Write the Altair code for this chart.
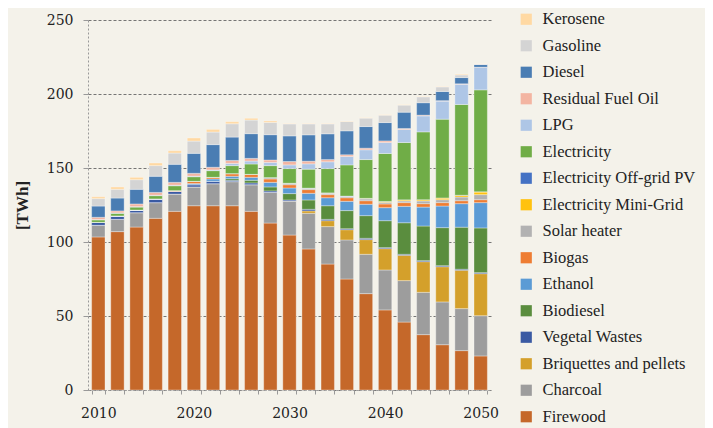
import altair as alt
import pandas as pd

years = list(range(2010, 2051, 2))

# series listed bottom -> top of the stack
series = [
    "Firewood", "Charcoal", "Briquettes and pellets", "Vegetal Wastes", "Biodiesel",
    "Ethanol", "Biogas", "Solar heater", "Electricity Mini-Grid", "Electricity Off-grid PV",
    "Electricity", "LPG", "Residual Fuel Oil", "Diesel", "Gasoline", "Kerosene",
]
colors = [
    "#C5682A", "#9D9D9D", "#D4A02B", "#3A5AA3", "#5A8D3E",
    "#5B9BD5", "#EE7D33", "#B2B2B2", "#FFC20E", "#4472C4",
    "#70AD47", "#AEC6E6", "#F3B5A2", "#4A7DB3", "#D4D4D4", "#FFD9A3",
]

firewood = [103.4, 107.0, 110.1, 116.0, 120.7, 124.5, 124.5, 124.5, 120.7, 112.8, 104.7,
            95.3, 85.1, 75.0, 65.1, 54.1, 45.9, 37.4, 30.6, 26.6, 23.0]
charcoal = [7.9, 8.3, 9.7, 10.6, 11.7, 12.7, 14.9, 16.3, 18.0, 20.7, 23.0,
            24.1, 25.3, 26.4, 26.6, 27.0, 28.0, 28.6, 28.9, 28.4, 27.2]
briquettes = [0, 0, 0, 0, 0, 0, 0, 0, 0, 0, 0,
              1.6, 4.0, 6.9, 9.9, 14.4, 17.1, 20.7, 23.8, 25.9, 28.4]
vegetal = [2.0, 2.3, 1.8, 2.5, 1.8, 1.5, 1.6, 0.9, 1.2, 1.0, 0.7,
           1.1, 0.9, 0.7, 0.9, 0.7, 0.7, 0.7, 0.7, 0.7, 0.7]
biodiesel = [0, 0, 0, 0, 0, 0, 0, 1.1, 1.8, 2.7, 4.3,
             6.3, 9.2, 12.2, 15.3, 18.2, 21.3, 23.4, 25.7, 28.4, 30.2]
ethanol = [0, 0, 0, 0, 0, 0.8, 1.6, 1.6, 2.0, 3.1, 3.8,
           4.5, 5.4, 6.3, 7.7, 8.8, 11.1, 12.8, 14.6, 15.9, 17.1]
biogas = [0, 0, 0, 0, 0.5, 1.5, 1.1, 1.8, 2.0, 2.3, 2.2,
          2.5, 2.1, 2.4, 2.4, 2.5, 2.5, 2.3, 2.3, 2.0, 2.0]
solar = [0, 0, 0, 0, 0, 0, 0, 0, 0, 0.9, 0.9,
         0.9, 1.1, 1.0, 1.2, 1.1, 1.1, 1.8, 2.0, 2.5, 3.4]
minigrid = [0, 0, 0, 0, 0, 0, 0, 0, 0, 0, 0,
            0, 0, 0, 0.3, 0.5, 0.7, 0.8, 1.1, 1.1, 1.8]
offgrid = [0, 0, 0, 0, 0, 0, 0, 0, 0, 0, 0.1,
           0.1, 0.1, 0.1, 0.1, 0.1, 0.1, 0.1, 0.1, 0.1, 0.1]
electricity = [1.6, 1.8, 2.0, 2.2, 3.3, 3.1, 4.5, 5.4, 7.0, 8.1, 9.9,
               12.8, 16.4, 21.1, 26.2, 32.4, 38.7, 45.8, 53.2, 61.3, 68.9]
lpg = [0.3, 0.3, 0.3, 0.3, 0.4, 0.4, 0.5, 1.5, 2.0, 2.2, 2.5,
       3.6, 4.6, 5.7, 6.6, 7.4, 8.8, 10.8, 12.2, 13.7, 15.1]
residual = [1.5, 1.3, 1.8, 1.9, 1.9, 1.9, 1.8, 2.0, 1.8, 1.6, 2.3,
            1.8, 1.5, 1.1, 1.1, 1.1, 0.7, 0.5, 0.3, 0.3, 0.2]
diesel = [7.6, 8.7, 9.9, 10.9, 12.2, 13.5, 15.3, 15.8, 16.7, 17.1, 17.3,
          17.8, 17.4, 16.2, 14.6, 12.4, 11.0, 8.4, 6.2, 4.2, 1.8]
gasoline = [5.0, 5.9, 6.5, 7.2, 7.6, 8.3, 8.5, 9.0, 9.2, 8.3, 8.1,
            7.4, 6.7, 6.3, 5.7, 5.0, 4.8, 4.0, 3.1, 1.8, 0.3]
kerosene = [1.3, 1.6, 1.6, 1.8, 1.6, 2.1, 1.8, 1.4, 1.2, 1.0, 0.3,
            0.3, 0.3, 0.3, 0.3, 0.3, 0.3, 0.3, 0.3, 0.5, 0.2]

values = [firewood, charcoal, briquettes, vegetal, biodiesel, ethanol, biogas, solar,
          minigrid, offgrid, electricity, lpg, residual, diesel, gasoline, kerosene]

rows = []
for i, (name, vals) in enumerate(zip(series, values)):
    for y, v in zip(years, vals):
        rows.append({"year": y, "source": name, "value": v, "idx": i})
df = pd.DataFrame(rows)

legend_order = series[::-1]
legend_colors = colors[::-1]

FONT = "Liberation Serif"

chart = alt.Chart(df).mark_bar(
    stroke="#FFFFFF", strokeWidth=0.6, strokeOpacity=0.55
).encode(
    x=alt.X("year:O", title=None,
            scale=alt.Scale(paddingInner=0.3, paddingOuter=0.19),
            axis=alt.Axis(labelExpr="datum.value % 10 == 0 ? datum.label : ''",
                          labelAngle=0, tickBand="extent", tickSize=4,
                          tickColor="#999999", domainColor="#999999",
                          domainDash=[2, 2], labelPadding=12,
                          labelFont="DejaVu Serif", labelFontSize=14,
                          labelColor="#222222", grid=False)),
    y=alt.Y("value:Q", title="[TWh]", stack="zero",
            scale=alt.Scale(domain=[0, 250], nice=False),
            axis=alt.Axis(values=[0, 50, 100, 150, 200, 250], tickSize=5,
                          tickColor="#999999", domainColor="#999999",
                          domainDash=[2, 2], gridColor="#666666",
                          gridDash=[3, 2], gridWidth=0.9, labelPadding=10,
                          labelFont="DejaVu Serif", labelFontSize=14,
                          labelColor="#222222",
                          titleFont=FONT, titleFontSize=17, titleFontWeight="bold",
                          titleColor="#222222", titleAngle=270, titleAlign="center",
                          titleBaseline="middle", titleX=-66, titleY=185)),
    color=alt.Color("source:N",
                    scale=alt.Scale(domain=legend_order, range=legend_colors),
                    legend=alt.Legend(title=None, orient="none", legendX=430,
                                      legendY=-9, symbolType="square",
                                      symbolSize=125, symbolStrokeWidth=0,
                                      labelFont=FONT, labelFontSize=16.5,
                                      labelColor="#222222", rowPadding=9.5,
                                      labelOffset=8, padding=0,
                                      labelLimit=300)),
    order=alt.Order("idx:Q", sort="ascending"),
).properties(
    width=403, height=370,
    background="#F4F2EA",
    padding={"left": 80, "top": 12, "right": 214, "bottom": 38},
    autosize=alt.AutoSizeParams(type="none"),
).configure_view(stroke=None)

chart.save("out.html", embed_options={"renderer": "svg", "actions": False})
